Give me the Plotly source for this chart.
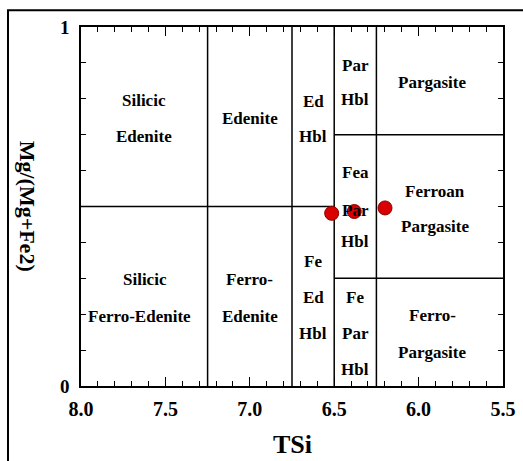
import plotly.graph_objects as go

# Sample data (TSi, Mg/(Mg+Fe2))
tsi = [6.515, 6.381, 6.199]
mg_ratio = [0.481, 0.486, 0.496]

# Field boundaries (x0, y0, x1, y1) in data units
boundaries = [
    (7.25, 0.0, 7.25, 1.0),
    (6.75, 0.0, 6.75, 1.0),
    (6.5, 0.0, 6.5, 1.0),
    (6.25, 0.0, 6.25, 1.0),
    (8.0, 0.5, 6.5, 0.5),
    (6.5, 0.7, 5.5, 0.7),
    (6.5, 0.3, 5.5, 0.3),
]

# Field names: (text, x, y)
field_labels = [
    ("Silicic", 7.625, 0.795), ("Edenite", 7.625, 0.695),
    ("Edenite", 7.0, 0.745),
    ("Ed", 6.625, 0.792), ("Hbl", 6.625, 0.694),
    ("Par", 6.375, 0.893), ("Hbl", 6.375, 0.797),
    ("Pargasite", 5.92, 0.845),
    ("Fea", 6.375, 0.594), ("Par", 6.375, 0.49), ("Hbl", 6.375, 0.403),
    ("Ferroan", 5.905, 0.541), ("Pargasite", 5.905, 0.443),
    ("Silicic", 7.62, 0.297), ("Ferro-Edenite", 7.655, 0.195),
    ("Ferro-", 7.0, 0.298), ("Edenite", 7.0, 0.195),
    ("Fe", 6.625, 0.346), ("Ed", 6.625, 0.246), ("Hbl", 6.625, 0.145),
    ("Fe", 6.375, 0.247), ("Par", 6.375, 0.145), ("Hbl", 6.375, 0.047),
    ("Ferro-", 5.92, 0.197), ("Pargasite", 5.92, 0.094),
]

x_ticks = [8.0, 7.5, 7.0, 6.5, 6.0, 5.5]
x_ticktext = ["8.0", "7.5", "7.0", "6.5", "6.0", "5.5"]
y_ticks = [0, 1]
y_ticktext = ["0", "1"]

FONT = "Liberation Serif"

fig = go.Figure()

for (x0, y0, x1, y1) in boundaries:
    fig.add_trace(go.Scatter(x=[x0, x1], y=[y0, y1], mode="lines",
                             line=dict(color="black", width=1.5),
                             hoverinfo="skip", showlegend=False))

fig.add_trace(go.Scatter(x=tsi, y=mg_ratio, mode="markers",
                         marker=dict(size=14, color="#d80000",
                                     line=dict(color="#8a0000", width=1)),
                         showlegend=False))

for text, x, y in field_labels:
    fig.add_annotation(x=x, y=y, xref="x", yref="y", text="<b>%s</b>" % text,
                       showarrow=False, xanchor="center", yanchor="middle",
                       font=dict(family=FONT, size=17, color="black"))

# Y axis title (rotated clockwise)
fig.add_annotation(x=-0.126, y=0.5, xref="paper", yref="paper",
                   xanchor="center", yanchor="middle",
                   text="<b>Mg/(Mg+Fe2)</b>", textangle=90, showarrow=False,
                   font=dict(family=FONT, size=22, color="black"))

# X axis title
fig.add_annotation(x=0.502, y=-0.209, xref="paper", yref="paper",
                   xanchor="center", yanchor="bottom",
                   text="<b>TSi</b>", showarrow=False,
                   font=dict(family=FONT, size=26, color="black"))

# Outer frame
fig.add_shape(type="rect", xref="paper", yref="paper",
              x0=-0.173, y0=-0.3, x1=1.1, y1=1.047,
              line=dict(color="black", width=2), fillcolor="rgba(0,0,0,0)",
              layer="below")

fig.update_layout(
    width=523, height=461,
    margin=dict(l=81, r=20, t=27, b=75),
    paper_bgcolor="white", plot_bgcolor="white",
    font=dict(family=FONT, color="black"),
    xaxis=dict(range=[8.0, 5.5], showgrid=False, zeroline=False, automargin=False,
               showline=True, linecolor="black", linewidth=1.5, mirror="ticks",
               ticks="inside", ticklen=9, tickwidth=1.2, tickcolor="black",
               tickvals=x_ticks, ticktext=["<b>%s</b>" % t for t in x_ticktext],
               tickfont=dict(family=FONT, size=20),
               ticklabelstandoff=4,
               minor=dict(dtick=0.1, tick0=8.0, ticks="inside", ticklen=5,
                          tickwidth=1.2, tickcolor="black", showgrid=False)),
    yaxis=dict(range=[0, 1], showgrid=False, zeroline=False, automargin=False,
               showline=True, linecolor="black", linewidth=1.5, mirror="ticks",
               ticks="inside", ticklen=0, tickcolor="black",
               tickvals=y_ticks, ticktext=["<b>%s</b>" % t for t in y_ticktext],
               tickfont=dict(family=FONT, size=19),
               ticklabelstandoff=6,
               minor=dict(dtick=0.1, tick0=0, ticks="inside", ticklen=5,
                          tickwidth=1.2, tickcolor="black", showgrid=False)),
)

fig.write_html("out.html")
